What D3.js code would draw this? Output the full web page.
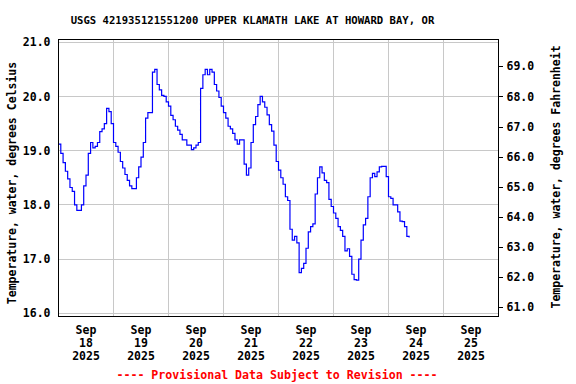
<!DOCTYPE html>
<html>
<head>
<meta charset="utf-8">
<script src="https://cdn.jsdelivr.net/npm/d3@7"></script>
<style>
  html, body { margin: 0; padding: 0; background: #fff; }
  svg { display: block; }
  text { font-family: "DejaVu Sans Mono", "Liberation Mono", monospace; font-weight: bold; fill: #000; }
</style>
</head>
<body>
<svg id="chart" width="576" height="384"></svg>
<script>
// ---- data ----
const title = "USGS 421935121551200 UPPER KLAMATH LAKE AT HOWARD BAY, OR";
const footer = "---- Provisional Data Subject to Revision ----";
const leftLabel = "Temperature, water, degrees Celsius";
const rightLabel = "Temperature, water, degrees Fahrenheit";
const seriesStart = "2025-09-18T00:00:00Z";   // hourly readings start
const tempC = [
  19.12, 18.95, 18.78, 18.62, 18.48, 18.32, 18.25, 18.00, 17.90, 17.90, 18.00, 18.35,
  18.55, 18.95, 19.15, 19.05, 19.08, 19.15, 19.35, 19.40, 19.50, 19.78, 19.72, 19.50,
  19.15, 19.08, 18.97, 18.80, 18.68, 18.56, 18.45, 18.35, 18.30, 18.30, 18.50, 18.70,
  18.88, 19.15, 19.60, 19.70, 19.70, 20.45, 20.50, 20.22, 20.12, 20.02, 20.00, 19.90,
  19.82, 19.65, 19.57, 19.45, 19.38, 19.30, 19.20, 19.20, 19.10, 19.10, 19.02, 19.05,
  19.10, 19.15, 20.15, 20.40, 20.50, 20.40, 20.50, 20.45, 20.22, 20.10, 19.98, 19.82,
  19.70, 19.60, 19.45, 19.40, 19.32, 19.20, 19.12, 19.20, 19.20, 18.75, 18.55, 18.68,
  19.15, 19.48, 19.63, 19.85, 20.00, 19.90, 19.80, 19.66, 19.48, 19.36, 19.10, 18.80,
  18.64, 18.50, 18.38, 18.15, 18.08, 17.55, 17.35, 17.42, 17.30, 16.75, 16.83, 16.92,
  17.20, 17.50, 17.60, 17.65, 18.20, 18.50, 18.70, 18.59, 18.45, 18.41, 18.10, 17.97,
  17.85, 17.75, 17.60, 17.53, 17.42, 17.15, 17.19, 17.05, 16.72, 16.62, 16.61, 17.00,
  17.35, 17.63, 17.75, 18.15, 18.50, 18.58, 18.52, 18.61, 18.70, 18.71, 18.71, 18.52,
  18.15, 18.12, 18.00, 18.00, 17.87, 17.70, 17.69, 17.60, 17.42, 17.40
];
const dayTicks = ["2025-09-18", "2025-09-19", "2025-09-20", "2025-09-21",
                  "2025-09-22", "2025-09-23", "2025-09-24", "2025-09-25"];
const xDomain = ["2025-09-18T00:00:00Z", "2025-09-26T00:00:00Z"];
const celsiusTicks = [16, 17, 18, 19, 20, 21];
const fahrenheitTicks = [61, 62, 63, 64, 65, 66, 67, 68, 69];
const yDomainC = [15.95, 21.05];

// ---- layout ----
const svg = d3.select("#chart");
const L = 58.5, R = 498.5, T = 39.5, B = 316;

const start = new Date(seriesStart);
const data = tempC.map((v, i) => ({ t: d3.utcHour.offset(start, i), v }));

const x = d3.scaleUtc().domain(xDomain.map(d => new Date(d))).range([L, R]);
const y = d3.scaleLinear().domain(yDomainC).range([B, T]);
const yF = d3.scaleLinear().domain(yDomainC.map(c => c * 9 / 5 + 32)).range([B, T]);

// grid
const grid = svg.append("g").attr("stroke", "#c8c8c8").attr("stroke-width", 1).attr("shape-rendering", "crispEdges");
const midnights = d3.utcDay.range(new Date(xDomain[0]), new Date(xDomain[1])).slice(1);
grid.selectAll("line.v").data(midnights).join("line")
  .attr("x1", d => x(d)).attr("x2", d => x(d)).attr("y1", T).attr("y2", B);
grid.selectAll("line.h").data(celsiusTicks).join("line")
  .attr("x1", L).attr("x2", R).attr("y1", d => y(d)).attr("y2", d => y(d));

// line
const line = d3.line().x(d => x(d.t)).y(d => y(d.v)).curve(d3.curveStepAfter);
svg.append("path").datum(data)
  .attr("fill", "none").attr("stroke", "#0000ff").attr("stroke-width", 1.2)
  .attr("d", line);

// frame
svg.append("rect").attr("x", L).attr("y", T).attr("width", R - L).attr("height", B - T)
  .attr("fill", "none").attr("stroke", "#000").attr("stroke-width", 1).attr("shape-rendering", "crispEdges");

// left axis (Celsius)
const fmt = d3.format(".1f");
const leftAxis = d3.axisLeft(y).tickValues(celsiusTicks).tickFormat(fmt).tickSize(0).tickPadding(8);
const gl = svg.append("g").attr("transform", `translate(${L},0)`).call(leftAxis);
gl.select(".domain").remove();
gl.selectAll("text").style("font-size", "11.5px").style("font-family", null).attr("fill", "#000");

// right axis (Fahrenheit)
const rightAxis = d3.axisRight(yF).tickValues(fahrenheitTicks).tickFormat(fmt).tickSize(4).tickPadding(4);
const gr = svg.append("g").attr("transform", `translate(${R},0)`).call(rightAxis);
gr.select(".domain").remove();
gr.selectAll("line").attr("stroke", "#000").attr("shape-rendering", "crispEdges");
gr.selectAll("text").style("font-size", "11.5px").style("font-family", null).attr("fill", "#000");

// x labels (at noon of each day)
const monthFmt = d3.utcFormat("%b"), dayFmt = d3.utcFormat("%d"), yearFmt = d3.utcFormat("%Y");
const xl = svg.append("g");
dayTicks.forEach(s => {
  const d = new Date(s + "T00:00:00Z");
  const cx = x(d3.utcHour.offset(d, 12));
  const t = xl.append("text").attr("x", cx).attr("text-anchor", "middle").style("font-size", "11.5px");
  t.append("tspan").attr("x", cx).attr("y", 334).text(monthFmt(d));
  t.append("tspan").attr("x", cx).attr("y", 347).text(dayFmt(d));
  t.append("tspan").attr("x", cx).attr("y", 360).text(yearFmt(d));
});

// title
svg.append("text").attr("x", 252.5).attr("y", 24).attr("text-anchor", "middle")
  .style("font-size", "10.6px").text(title);

// axis titles
svg.append("text").attr("transform", "translate(16,183) rotate(-90)").attr("text-anchor", "middle")
  .style("font-size", "11.5px").text(leftLabel);
svg.append("text").attr("transform", "translate(560,177) rotate(-90)").attr("text-anchor", "middle")
  .style("font-size", "11.5px").text(rightLabel);

// footer
svg.append("text").attr("x", 277).attr("y", 379).attr("text-anchor", "middle")
  .style("font-size", "11.6px").style("fill", "#ff0000").text(footer);
</script>
</body>
</html>
